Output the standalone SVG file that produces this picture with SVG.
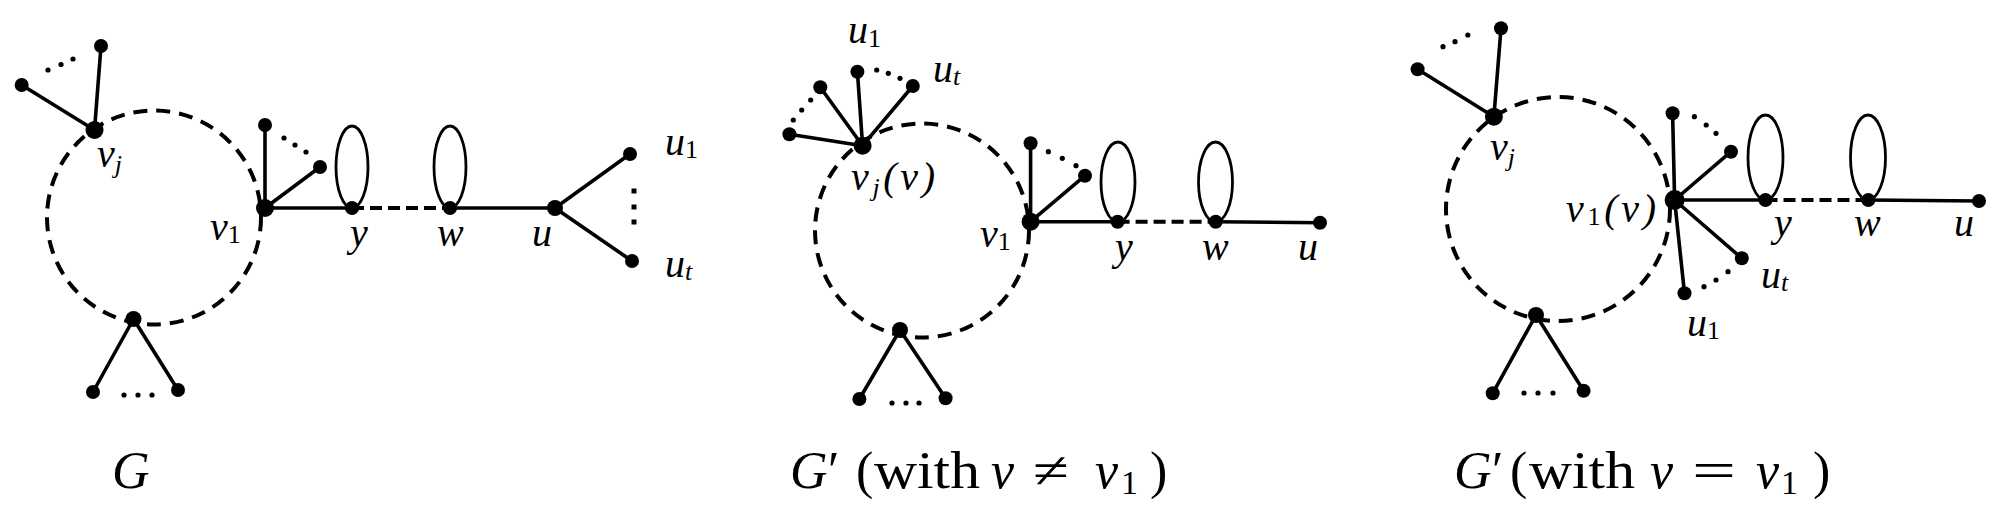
<svg xmlns="http://www.w3.org/2000/svg" width="2000" height="515" viewBox="0 0 2000 515">
<style>
.e{stroke:#000;stroke-width:3.6;fill:none;stroke-linecap:round}
.lp{stroke:#000;stroke-width:2.8;fill:none}
.cyc{stroke:#000;stroke-width:4;fill:none;stroke-dasharray:14 9}
.dsh{stroke:#000;stroke-width:4;stroke-dasharray:12 6;fill:none}
.n{fill:#000}
.d{fill:#000}
.lbl{font-family:"Liberation Serif",serif;font-style:italic;font-size:40px;fill:#000}
.sub{font-size:26px;font-style:normal}
.subi{font-size:26px}
.cap{font-family:"Liberation Serif",serif;font-size:52px;fill:#000}
.it{font-style:italic}
</style>
<rect width="2000" height="515" fill="#fff"/>

<!-- ===== Panel 1: G ===== -->
<g id="p1-connectors">
  <circle class="cyc" cx="154" cy="217.5" r="107"/>
  <line class="e" x1="94.5" y1="130" x2="101" y2="46"/>
  <line class="e" x1="94.5" y1="130" x2="21.7" y2="85"/>
  <line class="e" x1="265" y1="208" x2="265" y2="125"/>
  <line class="e" x1="265" y1="208" x2="320" y2="167"/>
  <line class="e" x1="265" y1="208" x2="352" y2="208"/>
  <line class="dsh" x1="352" y1="208" x2="450" y2="208"/>
  <line class="e" x1="450" y1="208" x2="555" y2="208"/>
  <line class="e" x1="555" y1="208" x2="630" y2="154"/>
  <line class="e" x1="555" y1="208" x2="632" y2="261"/>
  <line class="e" x1="133.5" y1="319" x2="93" y2="392"/>
  <line class="e" x1="133.5" y1="319" x2="178" y2="390"/>
  <ellipse class="lp" cx="352" cy="167" rx="16" ry="41"/>
  <ellipse class="lp" cx="450" cy="167" rx="16" ry="41"/>
  <g id="p1-ellipsis">
    <circle class="d" cx="48" cy="70" r="2.6"/><circle class="d" cx="61" cy="64.5" r="2.6"/><circle class="d" cx="73" cy="59" r="2.6"/>
    <circle class="d" cx="284" cy="138" r="2.6"/><circle class="d" cx="295" cy="145" r="2.6"/><circle class="d" cx="306" cy="152" r="2.6"/>
    <rect class="d" x="631.5" y="188.5" width="5" height="5"/><rect class="d" x="631.5" y="204.5" width="5" height="5"/><rect class="d" x="631.5" y="219.5" width="5" height="5"/>
    <circle class="d" cx="124" cy="395" r="2.6"/><circle class="d" cx="138" cy="395" r="2.6"/><circle class="d" cx="152" cy="395" r="2.6"/>
  </g>
</g>
<g id="p1-vj"><circle class="n" cx="94.5" cy="130" r="9"/><text class="lbl" x="97" y="167">v<tspan class="subi" dy="6">j</tspan></text></g>
<g id="p1-vj-a"><circle class="n" cx="101" cy="46" r="7"/></g>
<g id="p1-vj-b"><circle class="n" cx="21.7" cy="85" r="7"/></g>
<g id="p1-v1"><circle class="n" cx="265" cy="208" r="9"/><text class="lbl" x="210" y="240">v<tspan class="sub" dy="3">1</tspan></text></g>
<g id="p1-v1-a"><circle class="n" cx="265" cy="125" r="7"/></g>
<g id="p1-v1-b"><circle class="n" cx="320" cy="167" r="7"/></g>
<g id="p1-y"><circle class="n" cx="352" cy="208" r="7"/><text class="lbl" x="350" y="246">y</text></g>
<g id="p1-w"><circle class="n" cx="450" cy="208" r="7"/><text class="lbl" x="437" y="246">w</text></g>
<g id="p1-u"><circle class="n" cx="555" cy="208" r="8"/><text class="lbl" x="532" y="246">u</text></g>
<g id="p1-u1"><circle class="n" cx="630" cy="154" r="7"/><text class="lbl" x="665" y="155">u<tspan class="sub" dy="3">1</tspan></text></g>
<g id="p1-ut"><circle class="n" cx="632" cy="261" r="7"/><text class="lbl" x="665" y="277">u<tspan class="subi" dy="3">t</tspan></text></g>
<g id="p1-bot"><circle class="n" cx="133.5" cy="319" r="8"/></g>
<g id="p1-bot-a"><circle class="n" cx="93" cy="392" r="7"/></g>
<g id="p1-bot-b"><circle class="n" cx="178" cy="390" r="7"/></g>

<!-- ===== Panel 2: G' (v != v1) ===== -->
<g id="p2-connectors">
  <circle class="cyc" cx="922" cy="230.5" r="107"/>
  <line class="e" x1="862.6" y1="145.7" x2="789.4" y2="134.3"/>
  <line class="e" x1="862.6" y1="145.7" x2="820.3" y2="87.3"/>
  <line class="e" x1="862.6" y1="145.7" x2="857.4" y2="71.7"/>
  <line class="e" x1="862.6" y1="145.7" x2="912.8" y2="86"/>
  <line class="e" x1="1030.6" y1="221.7" x2="1030.6" y2="143.3"/>
  <line class="e" x1="1030.6" y1="221.7" x2="1085" y2="175.7"/>
  <line class="e" x1="1030.6" y1="221.7" x2="1117.6" y2="221.7"/>
  <line class="dsh" x1="1117.6" y1="221.7" x2="1215.7" y2="221.7"/>
  <line class="e" x1="1215.7" y1="221.7" x2="1320" y2="222.7"/>
  <line class="e" x1="900" y1="330" x2="859.4" y2="399"/>
  <line class="e" x1="900" y1="330" x2="945.6" y2="398.3"/>
  <ellipse class="lp" cx="1118" cy="182" rx="17" ry="40"/>
  <ellipse class="lp" cx="1215.5" cy="182" rx="17" ry="40"/>
  <g id="p2-ellipsis">
    <circle class="d" cx="793.3" cy="120" r="2.6"/><circle class="d" cx="801.7" cy="110" r="2.6"/><circle class="d" cx="810.7" cy="100" r="2.6"/>
    <circle class="d" cx="876.7" cy="70" r="2.6"/><circle class="d" cx="888.3" cy="73.3" r="2.6"/><circle class="d" cx="900" cy="78.3" r="2.6"/>
    <circle class="d" cx="1048.4" cy="151.7" r="2.6"/><circle class="d" cx="1062.3" cy="158.3" r="2.6"/><circle class="d" cx="1076" cy="165.7" r="2.6"/>
    <circle class="d" cx="892" cy="403" r="2.6"/><circle class="d" cx="906" cy="403" r="2.6"/><circle class="d" cx="919" cy="403" r="2.6"/>
  </g>
</g>
<g id="p2-vj"><circle class="n" cx="862.6" cy="145.7" r="9"/><text class="lbl" x="851" y="190" textLength="84" lengthAdjust="spacing">v<tspan class="subi" dy="6">j</tspan><tspan dy="-6">(v)</tspan></text></g>
<g id="p2-n1"><circle class="n" cx="789.4" cy="134.3" r="7"/></g>
<g id="p2-n2"><circle class="n" cx="820.3" cy="87.3" r="7"/></g>
<g id="p2-u1"><circle class="n" cx="857.4" cy="71.7" r="7"/><text class="lbl" x="848" y="43">u<tspan class="sub" dy="4">1</tspan></text></g>
<g id="p2-ut"><circle class="n" cx="912.8" cy="86" r="7"/><text class="lbl" x="933" y="82">u<tspan class="subi" dy="3">t</tspan></text></g>
<g id="p2-v1"><circle class="n" cx="1030.6" cy="221.7" r="9"/><text class="lbl" x="980" y="247">v<tspan class="sub" dy="3">1</tspan></text></g>
<g id="p2-v1-a"><circle class="n" cx="1030.6" cy="143.3" r="7"/></g>
<g id="p2-v1-b"><circle class="n" cx="1085" cy="175.7" r="7"/></g>
<g id="p2-y"><circle class="n" cx="1117.6" cy="221.7" r="7"/><text class="lbl" x="1115" y="260">y</text></g>
<g id="p2-w"><circle class="n" cx="1215.7" cy="221.7" r="7"/><text class="lbl" x="1202" y="260">w</text></g>
<g id="p2-u"><circle class="n" cx="1320" cy="222.7" r="7"/><text class="lbl" x="1298" y="260">u</text></g>
<g id="p2-bot"><circle class="n" cx="900" cy="330" r="8"/></g>
<g id="p2-bot-a"><circle class="n" cx="859.4" cy="399" r="7"/></g>
<g id="p2-bot-b"><circle class="n" cx="945.6" cy="398.3" r="7"/></g>

<!-- ===== Panel 3: G' (v = v1) ===== -->
<g id="p3-connectors">
  <circle class="cyc" cx="1558" cy="209" r="112"/>
  <line class="e" x1="1493.9" y1="116.7" x2="1417.6" y2="69.3"/>
  <line class="e" x1="1493.9" y1="116.7" x2="1501" y2="28.3"/>
  <line class="e" x1="1674.6" y1="200" x2="1672.6" y2="113.3"/>
  <line class="e" x1="1674.6" y1="200" x2="1731" y2="151.7"/>
  <line class="e" x1="1674.6" y1="200" x2="1741.8" y2="258.3"/>
  <line class="e" x1="1674.6" y1="200" x2="1684.5" y2="293.3"/>
  <line class="e" x1="1674.6" y1="200" x2="1765.5" y2="200"/>
  <line class="dsh" x1="1765.5" y1="200" x2="1868.3" y2="200"/>
  <line class="e" x1="1868.3" y1="200" x2="1979" y2="201"/>
  <line class="e" x1="1536" y1="315" x2="1492.7" y2="393.3"/>
  <line class="e" x1="1536" y1="315" x2="1583.6" y2="390.7"/>
  <ellipse class="lp" cx="1765.5" cy="157.5" rx="17.5" ry="42.5"/>
  <ellipse class="lp" cx="1868" cy="157.5" rx="17.5" ry="42.5"/>
  <g id="p3-ellipsis">
    <circle class="d" cx="1443" cy="46.7" r="2.6"/><circle class="d" cx="1455" cy="41.7" r="2.6"/><circle class="d" cx="1467.8" cy="35" r="2.6"/>
    <circle class="d" cx="1694.4" cy="116.7" r="2.6"/><circle class="d" cx="1706.2" cy="125" r="2.6"/><circle class="d" cx="1716" cy="133.3" r="2.6"/>
    <circle class="d" cx="1704" cy="286.7" r="2.6"/><circle class="d" cx="1716" cy="280" r="2.6"/><circle class="d" cx="1728" cy="271.7" r="2.6"/>
    <circle class="d" cx="1524" cy="393" r="2.6"/><circle class="d" cx="1538" cy="393" r="2.6"/><circle class="d" cx="1553" cy="393" r="2.6"/>
  </g>
</g>
<g id="p3-vj"><circle class="n" cx="1493.9" cy="116.7" r="9"/><text class="lbl" x="1490" y="160">v<tspan class="subi" dy="6">j</tspan></text></g>
<g id="p3-vj-a"><circle class="n" cx="1417.6" cy="69.3" r="7"/></g>
<g id="p3-vj-b"><circle class="n" cx="1501" cy="28.3" r="7"/></g>
<g id="p3-v1"><circle class="n" cx="1674.6" cy="200" r="10"/><text class="lbl" x="1566" y="222" textLength="90" lengthAdjust="spacing">v<tspan class="sub" dy="3">1</tspan><tspan dy="-3">(v)</tspan></text></g>
<g id="p3-v1-a"><circle class="n" cx="1672.6" cy="113.3" r="7"/></g>
<g id="p3-v1-b"><circle class="n" cx="1731" cy="151.7" r="7"/></g>
<g id="p3-ut"><circle class="n" cx="1741.8" cy="258.3" r="7"/><text class="lbl" x="1761" y="288">u<tspan class="subi" dy="3">t</tspan></text></g>
<g id="p3-u1"><circle class="n" cx="1684.5" cy="293.3" r="7"/><text class="lbl" x="1687" y="336">u<tspan class="sub" dy="3">1</tspan></text></g>
<g id="p3-y"><circle class="n" cx="1765.5" cy="200" r="7"/><text class="lbl" x="1774" y="236">y</text></g>
<g id="p3-w"><circle class="n" cx="1868.3" cy="200" r="7"/><text class="lbl" x="1854" y="236">w</text></g>
<g id="p3-u"><circle class="n" cx="1979" cy="201" r="7"/><text class="lbl" x="1954" y="236">u</text></g>
<g id="p3-bot"><circle class="n" cx="1536" cy="315" r="8"/></g>
<g id="p3-bot-a"><circle class="n" cx="1492.7" cy="393.3" r="7"/></g>
<g id="p3-bot-b"><circle class="n" cx="1583.6" cy="390.7" r="7"/></g>

<!-- ===== Captions ===== -->
<g id="captions">
  <text class="cap it" x="112" y="488">G</text>
  <text class="cap" y="488"><tspan class="it" x="790">G</tspan><tspan x="828">′</tspan><tspan x="856">(</tspan><tspan x="874" textLength="106" lengthAdjust="spacingAndGlyphs">with</tspan><tspan class="it" x="991">v</tspan><tspan x="1033" textLength="36" lengthAdjust="spacingAndGlyphs">≠</tspan><tspan class="it" x="1095">v</tspan><tspan x="1121" font-size="34" dy="6">1</tspan><tspan x="1150" dy="-6">)</tspan></text>
  <text class="cap" y="488"><tspan class="it" x="1454">G</tspan><tspan x="1492">′</tspan><tspan x="1510">(</tspan><tspan x="1529" textLength="106" lengthAdjust="spacingAndGlyphs">with</tspan><tspan class="it" x="1650">v</tspan><tspan x="1692" textLength="44" lengthAdjust="spacingAndGlyphs">=</tspan><tspan class="it" x="1756">v</tspan><tspan x="1781" font-size="34" dy="6">1</tspan><tspan x="1813" dy="-6">)</tspan></text>
</g>
</svg>
